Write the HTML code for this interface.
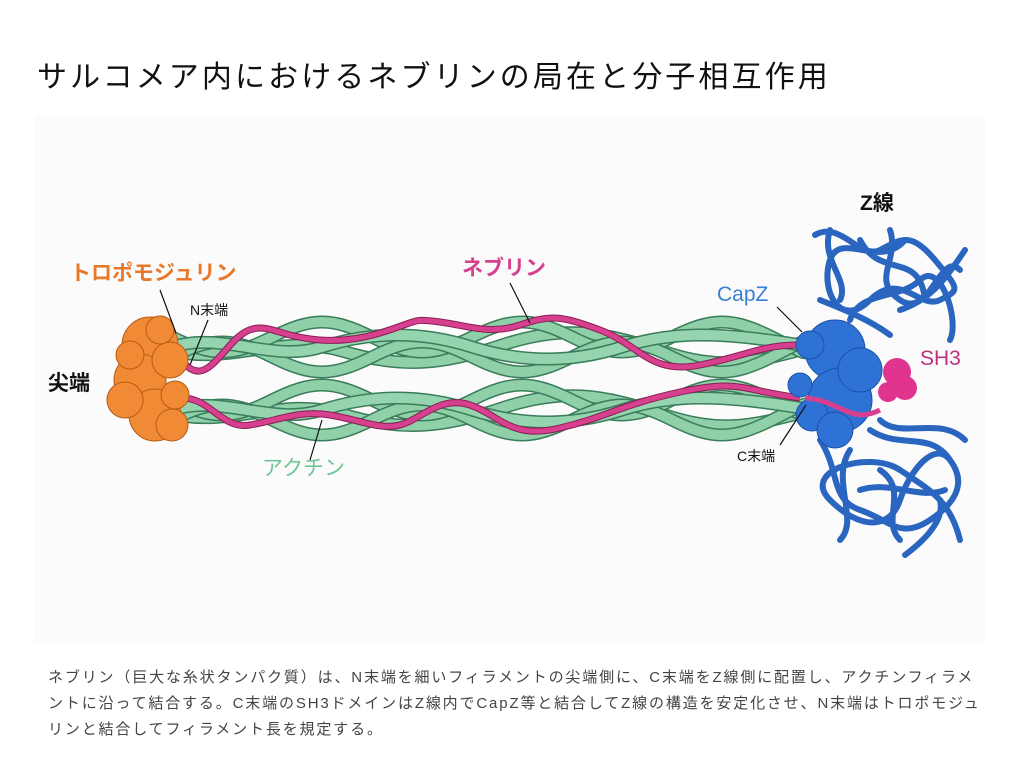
<!DOCTYPE html>
<html><head><meta charset="utf-8"><style>
body{margin:0;background:#fff;width:1012px;height:765px;overflow:hidden;font-family:"Liberation Sans","Noto Sans CJK JP",sans-serif}
h1{position:absolute;left:37px;top:52px;margin:0;font-size:30px;font-weight:400;color:#111;letter-spacing:3.1px;white-space:nowrap}
.cap{position:absolute;left:48px;top:665px;font-size:15px;line-height:26px;color:#444;white-space:nowrap;letter-spacing:1.85px}
svg{position:absolute;left:0;top:0}
</style></head><body>
<h1>サルコメア内におけるネブリンの局在と分子相互作用</h1>
<svg width="1012" height="765" font-family="Liberation Sans, Noto Sans CJK JP, sans-serif">
<rect x="35" y="115" width="950" height="528" fill="#fbfbfb"/>
<defs>
<path id="s1" d="M0,-10 C40,10 60,10 100,-10 S160,-30 200,-10 S260,10 300,-10 S360,-30 400,-10 S460,10 500,-10 S560,-30 600,-10 S630,8 640,0"/>
<path id="s2" d="M0,10 C40,-10 60,-10 100,10 S160,30 200,10 S260,-10 300,10 S360,30 400,10 S460,-10 500,10 S560,30 600,10 S630,-8 640,0"/>
<path id="s3" d="M0,0 C50,-16 100,16 150,0 S250,-16 300,0 S400,16 450,0 S550,-16 640,0"/>
<path id="s4" d="M0,4 C60,18 110,-14 170,4 S270,18 330,-2 S430,-16 490,4 S580,16 640,0"/>
<g id="fil" fill="none">
<use href="#s4" stroke="#3a7d5a" stroke-width="13"/><use href="#s4" stroke="#8fd0a9" stroke-width="10"/>
<use href="#s1" stroke="#3a7d5a" stroke-width="13"/><use href="#s1" stroke="#8fd0a9" stroke-width="10"/>
<use href="#s2" stroke="#3a7d5a" stroke-width="13"/><use href="#s2" stroke="#8fd0a9" stroke-width="10"/>
<use href="#s3" stroke="#3a7d5a" stroke-width="13"/><use href="#s3" stroke="#95d4ae" stroke-width="10"/>
</g>
</defs>
<use href="#fil" x="172" y="347"/>
<use href="#fil" x="172" y="410"/>
<path d="M178,355 C200,390 215,360 235,340 S270,330 290,335 S340,345 380,333 S410,318 440,322 S490,335 520,325 S560,315 600,330 S650,375 700,365 S760,345 800,345" fill="none" stroke="#8a1e55" stroke-width="7"/>
<path d="M178,355 C200,390 215,360 235,340 S270,330 290,335 S340,345 380,333 S410,318 440,322 S490,335 520,325 S560,315 600,330 S650,375 700,365 S760,345 800,345" fill="none" stroke="#d6408f" stroke-width="5"/>
<path d="M178,398 C210,395 220,430 250,425 S300,410 330,415 S380,430 400,425 S440,395 470,405 S510,440 560,428 S620,405 680,392 S740,390 800,398" fill="none" stroke="#8a1e55" stroke-width="7"/>
<path d="M178,398 C210,395 220,430 250,425 S300,410 330,415 S380,430 400,425 S440,395 470,405 S510,440 560,428 S620,405 680,392 S740,390 800,398" fill="none" stroke="#d6408f" stroke-width="5"/>
<g fill="#f08a35" stroke="#b65c15" stroke-width="1">
<circle cx="150" cy="345" r="28"/><circle cx="140" cy="380" r="26"/><circle cx="155" cy="415" r="26"/><circle cx="170" cy="360" r="18"/><circle cx="172" cy="425" r="16"/><circle cx="125" cy="400" r="18"/><circle cx="160" cy="330" r="14"/><circle cx="175" cy="395" r="14"/><circle cx="130" cy="355" r="14"/>
</g>
<g fill="none" stroke="#2a66c0" stroke-width="6" stroke-linejoin="round" stroke-linecap="round">
<path d="M815,235 C840,220 860,260 880,250 S910,230 935,260 S960,290 940,300 S900,270 870,300 S820,290 830,260 S880,270 905,240 M850,320 C860,290 900,300 920,280 S960,320 950,340 M890,230 C900,260 870,280 900,300 S940,250 960,270 M830,230 C820,260 850,280 840,300 M860,240 C880,280 920,250 925,300 M900,310 C930,300 945,280 965,250 M820,300 C845,310 870,320 890,335"/>
<path d="M820,440 C840,470 830,500 860,510 S900,540 930,520 S965,480 950,460 S910,470 900,500 S860,530 830,500 S870,450 900,470 S950,500 960,540 M870,430 C900,450 930,430 950,460 M900,540 C880,520 910,490 880,470 M840,540 C860,520 830,480 850,450 M880,420 C900,440 940,415 965,440 M860,490 C890,480 920,500 945,490 M905,555 C925,540 945,520 940,500"/>
</g>
<g fill="#2f72d6" stroke="#1c52a8" stroke-width="1">
<circle cx="835" cy="350" r="30"/><circle cx="840" cy="400" r="32"/><circle cx="860" cy="370" r="22"/><circle cx="810" cy="345" r="14"/><circle cx="812" cy="415" r="16"/><circle cx="835" cy="430" r="18"/><circle cx="800" cy="385" r="12"/>
</g>
<path d="M805,398 C840,400 850,425 880,410" fill="none" stroke="#d6408f" stroke-width="5"/>
<g fill="#e0348f"><circle cx="897" cy="372" r="14"/><circle cx="905" cy="388" r="12"/><circle cx="888" cy="392" r="10"/></g>
<g font-size="21" font-weight="bold">
<text x="70" y="280" fill="#e8792a">トロポモジュリン</text>
<text x="462" y="275" fill="#d6408f">ネブリン</text>
<text x="262" y="475" fill="#6fc595" font-weight="normal">アクチン</text>
<text x="717" y="301" fill="#3a7fd6" font-weight="normal">CapZ</text>
<text x="920" y="365" fill="#c0307e" font-weight="normal">SH3</text>
<text x="48" y="390" fill="#111">尖端</text>
<text x="860" y="210" fill="#111">Z線</text>
</g>
<g font-size="14" fill="#111"><text x="190" y="315">N末端</text><text x="737" y="461">C末端</text></g>
<g stroke="#111" stroke-width="1.2">
<line x1="160" y1="290" x2="176" y2="333"/><line x1="208" y1="320" x2="190" y2="365"/>
<line x1="510" y1="283" x2="530" y2="323"/><line x1="310" y1="460" x2="322" y2="420"/>
<line x1="777" y1="307" x2="802" y2="332"/><line x1="780" y1="445" x2="806" y2="405"/>
</g>
</svg>
<div class="cap">ネブリン（巨大な糸状タンパク質）は、N末端を細いフィラメントの尖端側に、C末端をZ線側に配置し、アクチンフィラメ<br>ントに沿って結合する。C末端のSH3ドメインはZ線内でCapZ等と結合してZ線の構造を安定化させ、N末端はトロポモジュ<br>リンと結合してフィラメント長を規定する。</div>
</body></html>
